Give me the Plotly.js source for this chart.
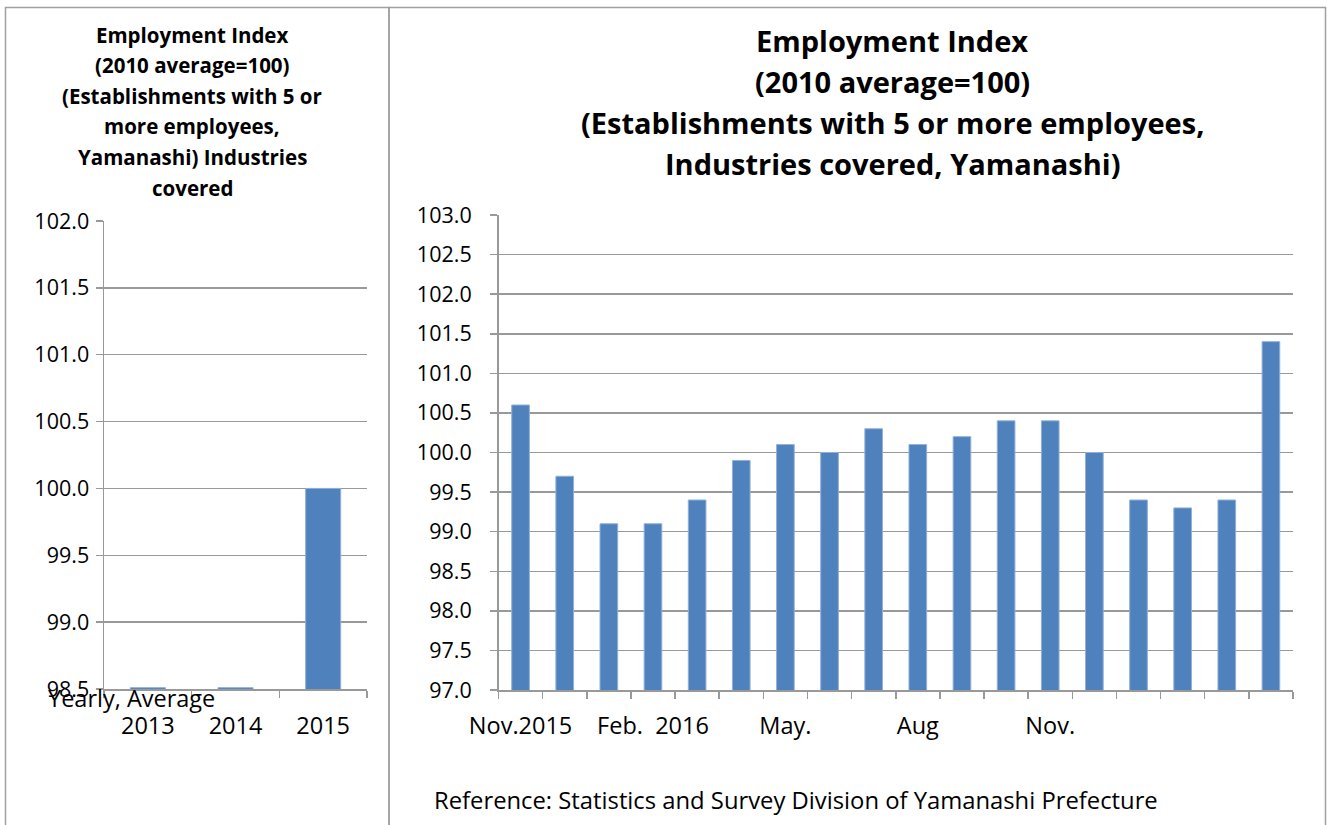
<!DOCTYPE html>
<html>
<head>
<meta charset="utf-8">
<script src="https://cdn.plot.ly/plotly-3.0.1.min.js"></script>
<style>
html,body{margin:0;padding:0;background:#fff;}
#chart{width:1327px;height:825px;}
</style>
</head>
<body>
<div id="chart"></div>
<script>
// Left panel: yearly averages
const yearCategories = ["2013", "2014", "2015"];
const yearValues = [98.51, 98.51, 100.0];

// Right panel: monthly index
const monthCategories = ["2015-11","2015-12","2016-01","2016-02","2016-03","2016-04","2016-05","2016-06","2016-07","2016-08","2016-09","2016-10","2016-11","2016-12","2017-01","2017-02","2017-03","2017-04"];
const monthValues = [100.6, 99.7, 99.1, 99.1, 99.4, 99.9, 100.1, 100.0, 100.3, 100.1, 100.2, 100.4, 100.4, 100.0, 99.4, 99.3, 99.4, 101.4];
const monthTickText = ["Nov.2015","","","Feb.\u00a0 2016","","","May.","","","Aug","","","Nov.","","","","",""];

const leftTitleLines = ["Employment Index","(2010 average=100)","(Establishments with 5 or","more employees,","Yamanashi) Industries","covered"];
const rightTitleLines = ["Employment Index","(2010 average=100)","(Establishments with 5 or more employees,","Industries covered, Yamanashi)"];
const leftAxisNote = "Yearly, Average";
const sourceNote = "Reference: Statistics and Survey Division of Yamanashi Prefecture";

const W = 1327, H = 825;
const px = v => v / W;
const py = v => 1 - v / H;

const FONT = "Open Sans, Noto Sans, sans-serif";
const BAR = "#4F81BD";
const GRID = "#999999";

const traces = [
  {type:"bar", x:yearCategories, y:yearValues, xaxis:"x", yaxis:"y",
   marker:{color:BAR, line:{color:"#8fb0d8", width:1}}, hoverinfo:"x+y"},
  {type:"bar", x:monthCategories, y:monthValues, xaxis:"x2", yaxis:"y2",
   marker:{color:BAR, line:{color:"#8fb0d8", width:1}}, hoverinfo:"x+y"}
];

const yCommon = {
  dtick:0.5, tickformat:".1f", showgrid:true, gridcolor:GRID, gridwidth:1.5,
  zeroline:false, showline:true, linecolor:GRID, linewidth:1.5,
  ticks:"outside", ticklen:7, tickcolor:GRID, tickwidth:1.5,
  tickfont:{family:FONT, size:21.5, color:"#000"}, fixedrange:true
};
const xCommon = {
  type:"category", tickson:"boundaries", ticks:"outside", ticklen:7,
  tickcolor:GRID, tickwidth:1.5, showline:true, linecolor:GRID, linewidth:1.5,
  showgrid:false, zeroline:false, layer:"below traces", tickangle:0,
  ticklabelstandoff:14,
  tickfont:{family:FONT, size:23.5, color:"#000"}, fixedrange:true
};

const annotations = [];
leftTitleLines.forEach((t,i) => annotations.push({
  xref:"paper", yref:"paper", x:px(192), y:py(35 + i*30.5), text:t, showarrow:false,
  xanchor:"center", yanchor:"middle", font:{family:FONT, size:20.5, color:"#000", weight:"bold"}
}));
rightTitleLines.forEach((t,i) => annotations.push({
  xref:"paper", yref:"paper", x:px(892), y:py(41 + i*41), text:t, showarrow:false,
  xanchor:"center", yanchor:"middle", font:{family:FONT, size:29, color:"#000", weight:"bold"}
}));
annotations.push({xref:"paper", yref:"paper", x:px(46), y:py(698), text:leftAxisNote, showarrow:false,
  xanchor:"left", yanchor:"middle", font:{family:FONT, size:23.5, color:"#000"}});
annotations.push({xref:"paper", yref:"paper", x:px(432), y:py(800), text:sourceNote, showarrow:false,
  xanchor:"left", yanchor:"middle", font:{family:FONT, size:23.8, color:"#000"}});

const layout = {
  width:W, height:H, margin:{l:0, r:0, t:0, b:0},
  paper_bgcolor:"#fff", plot_bgcolor:"rgba(0,0,0,0)",
  showlegend:false, bargap:0.6,
  xaxis:Object.assign({}, xCommon, {domain:[px(104), px(367)], anchor:"y", ticklabelstandoff:15}),
  yaxis:Object.assign({}, yCommon, {domain:[py(689), py(221)], range:[98.5, 102.0], anchor:"x", ticklabelstandoff:2}),
  xaxis2:Object.assign({}, xCommon, {domain:[px(498.5), px(1293)], anchor:"y2",
    tickmode:"array", tickvals:monthCategories, ticktext:monthTickText}),
  yaxis2:Object.assign({}, yCommon, {domain:[py(690), py(215)], range:[97.0, 103.0], anchor:"x2", ticklabelstandoff:14}),
  annotations:annotations,
  shapes:[
    {type:"rect", xref:"paper", yref:"paper", x0:px(5.5), x1:px(389), y0:-0.05, y1:py(7.5),
     line:{color:"#a0a0a0", width:1.5}, fillcolor:"rgba(0,0,0,0)", layer:"below"},
    {type:"rect", xref:"paper", yref:"paper", x0:px(389), x1:px(1325.5), y0:-0.05, y1:py(7.5),
     line:{color:"#a0a0a0", width:1.5}, fillcolor:"rgba(0,0,0,0)", layer:"below"}
  ]
};

Plotly.newPlot("chart", traces, layout, {displayModeBar:false, staticPlot:true});
</script>
</body>
</html>
